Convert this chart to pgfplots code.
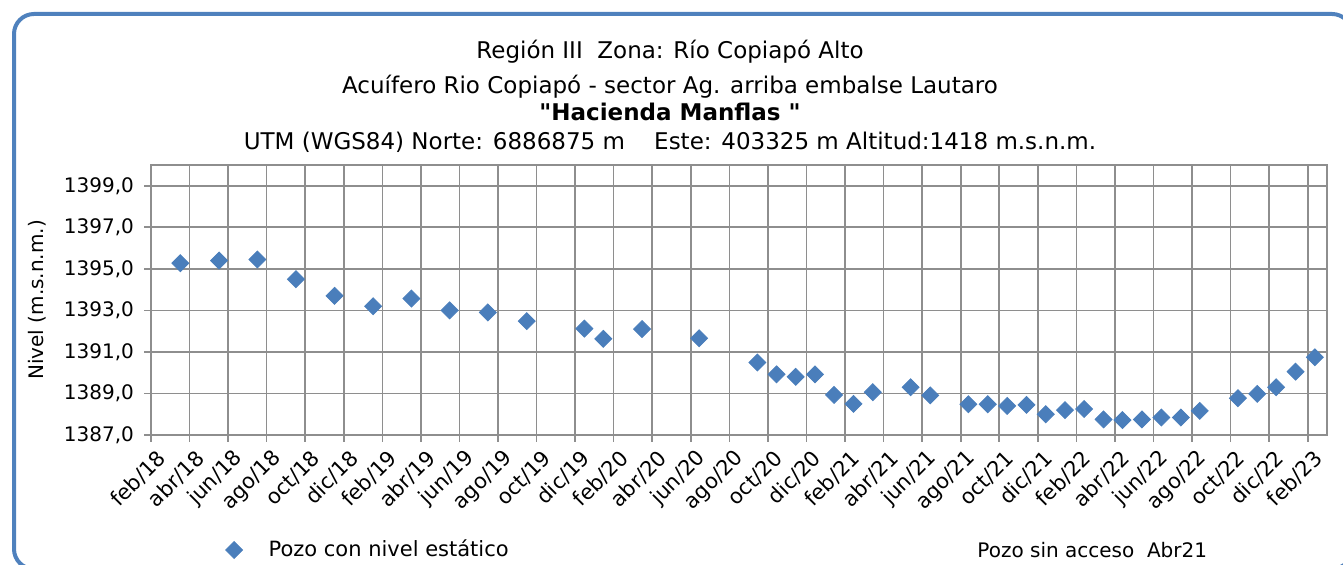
\documentclass[border=0pt]{standalone}
\usepackage{pgfplots}
\pgfplotsset{compat=1.18}
\usepackage{fontspec}
\setmainfont{DejaVu Sans}
\definecolor{ptblue}{HTML}{4A7EBB}
\definecolor{frameblue}{HTML}{4F81BD}
\definecolor{gridgray}{HTML}{8E8E8E}
\begin{document}
\begin{tikzpicture}
\begin{axis}[
  at={(75.5pt,65pt)}, anchor=south west,
  scale only axis, width=588pt, height=135pt,
  xmin=0, xmax=61, ymin=1387, ymax=1400,
  xtick={0,2,...,60},
  xticklabels={feb/18,abr/18,jun/18,ago/18,oct/18,dic/18,
    feb/19,abr/19,jun/19,ago/19,oct/19,dic/19,
    feb/20,abr/20,jun/20,ago/20,oct/20,dic/20,
    feb/21,abr/21,jun/21,ago/21,oct/21,dic/21,
    feb/22,abr/22,jun/22,ago/22,oct/22,dic/22,feb/23},
  ytick={1387,1389,...,1399},
  extra y ticks={1400}, extra y tick labels={},
  extra y tick style={grid=none, major tick length=0pt},
  tick pos=left,
  yticklabel style={xshift=-1.5pt, /pgf/number format/.cd, fixed, fixed zerofill, precision=1, use comma, 1000 sep={}},
  /pgf/number format/assume math mode=true,
  ticklabel style={font=\fontsize{10}{12}\selectfont},
  xticklabel style={xshift=8pt, yshift=-4pt, rotate=45, anchor=east, font=\fontsize{10.5}{12}\selectfont},
  tick align=outside, major tick length=3.5pt,
  tick style={gridgray, line width=0.8pt},
  grid=major, major grid style={gridgray, line width=0.8pt},
  axis line style={gridgray, line width=0.8pt},
  ylabel={Nivel (m.s.n.m.)},
  ylabel style={font=\fontsize{10.5}{12}\selectfont},
  every axis y label/.style={at={(-0.097,0.5)}, rotate=90, anchor=center},
  legend style={at={(0.058,-0.426)}, anchor=west, draw=none, fill=none, font=\fontsize{10.5}{12}\selectfont},
  legend cell align=left,
  clip=false,
]
\addplot[only marks, mark=square*, mark size=3pt, mark options={rotate=45, fill=ptblue, draw=ptblue}]
coordinates {
(1.52,1395.27) (3.53,1395.40) (5.52,1395.45) (7.52,1394.50) (9.52,1393.70)
(11.52,1393.20) (13.51,1393.57) (15.49,1393.00) (17.47,1392.90) (19.49,1392.48)
(22.48,1392.12) (23.46,1391.63) (25.47,1392.10) (28.43,1391.66) (31.45,1390.49)
(32.45,1389.92) (33.44,1389.80) (34.44,1389.92) (35.43,1388.93) (36.44,1388.50)
(37.44,1389.06) (39.40,1389.30) (40.42,1388.91) (42.40,1388.48) (43.40,1388.48)
(44.41,1388.40) (45.41,1388.45) (46.41,1388.00) (47.41,1388.20) (48.40,1388.25)
(49.41,1387.75) (50.39,1387.72) (51.40,1387.75) (52.41,1387.84) (53.42,1387.84)
(54.40,1388.16) (56.38,1388.77) (57.38,1388.98) (58.36,1389.30) (59.37,1390.05)
(60.37,1390.74)
};
\addlegendentry{\hspace{11pt}Pozo con nivel estático}
\end{axis}
\node[font=\fontsize{11.5}{13}\selectfont] at (335pt,256.5pt) {Región III\ \ Zona: Río Copiapó Alto};
\node[font=\fontsize{11.5}{13}\selectfont] at (335pt,239pt) {Acuífero Rio Copiapó - sector Ag. arriba embalse Lautaro};
\node[font=\fontsize{11.5}{13}\selectfont\bfseries] at (335pt,226.5pt) {\textquotedbl Hacienda Manflas \textquotedbl};
\node[font=\fontsize{11.5}{13}\selectfont] at (335pt,211.5pt) {UTM (WGS84) Norte: 6886875 m\ \ \ \ Este: 403325 m Altitud:1418 m.s.n.m.};
\node[font=\fontsize{10}{12}\selectfont, anchor=west, inner sep=0pt] at (488.5pt,7.5pt) {Pozo sin acceso\ \ Abr21};
\draw[frameblue, line width=2pt, rounded corners=10pt] (7pt,-2pt) rectangle (676pt,275.5pt);
\pgfresetboundingbox
\useasboundingbox (0,0) rectangle (671.5pt,282.5pt);
\end{tikzpicture}
\end{document}
